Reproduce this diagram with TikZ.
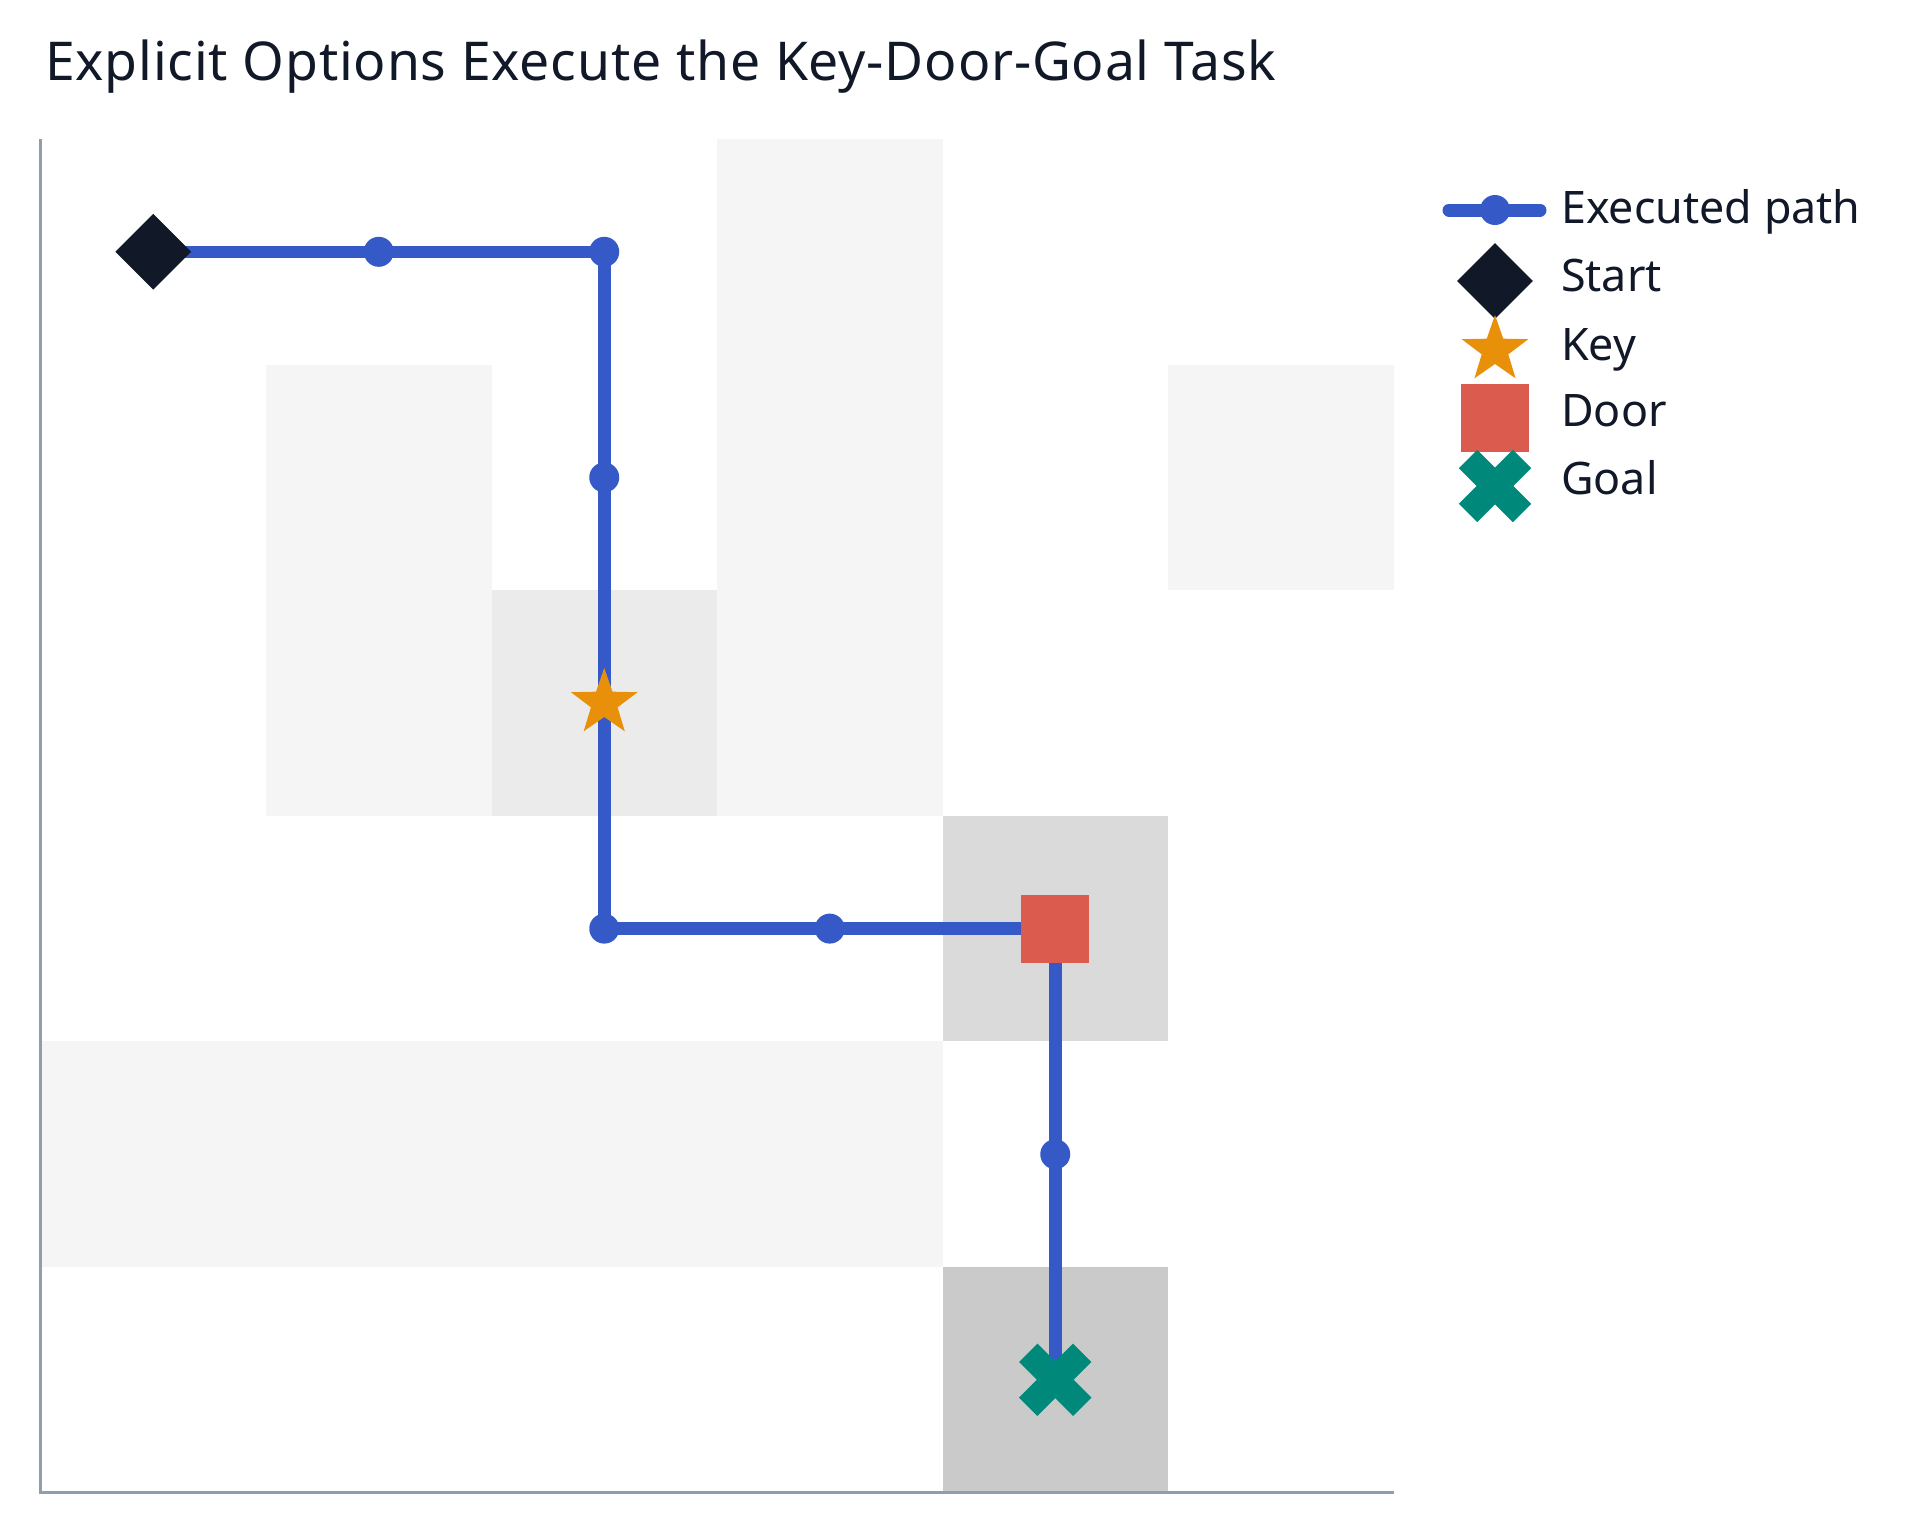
\documentclass[tikz,border=0pt]{standalone}
\usepackage{fontspec}
\setmainfont{Noto Sans}
\usetikzlibrary{shapes.geometric}
\definecolor{pathblue}{HTML}{3559C6}
\definecolor{inkdark}{HTML}{111827}
\definecolor{keyorange}{HTML}{E8900A}
\definecolor{doorred}{HTML}{DC5B4F}
\definecolor{goalteal}{HTML}{00897A}
\definecolor{axisgray}{HTML}{8E9DB0}
\definecolor{wallA}{HTML}{F5F5F5}
\definecolor{wallB}{HTML}{EBEBEB}
\definecolor{wallC}{HTML}{DADADA}
\definecolor{wallD}{HTML}{CACACA}
\tikzset{
  execpath/.style={draw=pathblue, line width=12.5pt, line join=round},
  pathdot/.style={circle, fill=pathblue, minimum size=30pt, inner sep=0pt},
  startmark/.style={diamond, fill=inkdark, minimum width=76pt, minimum height=76pt, inner sep=0pt},
  keymark/.style={star, star points=5, star point ratio=2.5, fill=keyorange, minimum size=70pt, inner sep=0pt},
  doormark/.style={rectangle, fill=doorred, minimum size=68pt, inner sep=0pt},
  goalarm/.style={draw=goalteal, line width=26pt, line cap=butt},
  legendtext/.style={anchor=base west, text=inkdark, font=\fontsize{44.8}{50}\selectfont, inner sep=0pt},
  axisline/.style={draw=axisgray, line width=3pt}
}
\begin{document}
\begin{tikzpicture}[x=1pt, y=-1pt]
\useasboundingbox (0,0) rectangle (1920,1532);
% title
\node[anchor=base west, text=inkdark, font=\fontsize{53.5}{58}\selectfont\addfontfeature{LetterSpace=1.5}, inner sep=0pt] (title) at (45,80.7) {Explicit Options Execute the Key-Door-Goal Task};
% grid shading
\begin{scope}[shift={(40.5,139)}, x=225.5pt, y=-225.6pt]
  \fill[wallA] (3,0) rectangle (4,3);
  \fill[wallA] (1,1) rectangle (2,3);
  \fill[wallB] (2,2) rectangle (3,3);
  \fill[wallA] (5,1) rectangle (6,2);
  \fill[wallA] (0,4) rectangle (4,5);
  \fill[wallC] (4,3) rectangle (5,4);
  \fill[wallD] (4,5) rectangle (5,6);
  \coordinate (s) at (0.5,0.5);
  \coordinate (p1) at (1.5,0.5);
  \coordinate (p2) at (2.5,0.5);
  \coordinate (p3) at (2.5,1.5);
  \coordinate (k) at (2.5,2.5);
  \coordinate (p4) at (2.5,3.5);
  \coordinate (p5) at (3.5,3.5);
  \coordinate (d) at (4.5,3.5);
  \coordinate (p6) at (4.5,4.5);
  \coordinate (g) at (4.5,5.5);
  \coordinate (axtop) at (0,0);
  \coordinate (axorigin) at (0,6);
  \coordinate (axright) at (6,6);
\end{scope}
% axes
\draw[axisline] (axtop) -- (axorigin) -- (axright);
% executed path
\draw[execpath] (s) -- (p1) -- (p2) -- (p3) -- (k) -- (p4) -- (p5) -- (d) -- (p6) -- (g);
\foreach \q in {p1,p2,p3,p4,p5,p6} { \node[pathdot] (dot\q) at (\q) {}; }
% markers
\node[startmark] (startm) at (s) {};
\node[keymark] (keym) at (k) {};
\node[doormark] (doorm) at (d) {};
\draw[goalarm] ([shift={(-27,-27)}]g) -- ([shift={(27,27)}]g);
\draw[goalarm] ([shift={(-27,27)}]g) -- ([shift={(27,-27)}]g);
% legend
\coordinate (lgA) at (1449,210);
\coordinate (lgB) at (1540,210);
\draw[draw=pathblue, line width=13pt, line cap=round] (lgA) -- (lgB);
\node[pathdot] (lgdot) at (1495,210) {};
\node[legendtext] (lt1) at (1561,223) {Executed path};
\node[startmark] (lgstart) at (1495,281) {};
\node[legendtext] (lt2) at (1561,291.7) {Start};
\node[keymark] (lgkey) at (1495,350) {};
\node[legendtext] (lt3) at (1561,360) {Key};
\node[doormark] (lgdoor) at (1495,418) {};
\node[legendtext] (lt4) at (1561,426.7) {Door};
\coordinate (lggoal) at (1495,486);
\draw[goalarm] ([shift={(-27,-27)}]lggoal) -- ([shift={(27,27)}]lggoal);
\draw[goalarm] ([shift={(-27,27)}]lggoal) -- ([shift={(27,-27)}]lggoal);
\node[legendtext] (lt5) at (1561,494) {Goal};
\end{tikzpicture}
\end{document}
